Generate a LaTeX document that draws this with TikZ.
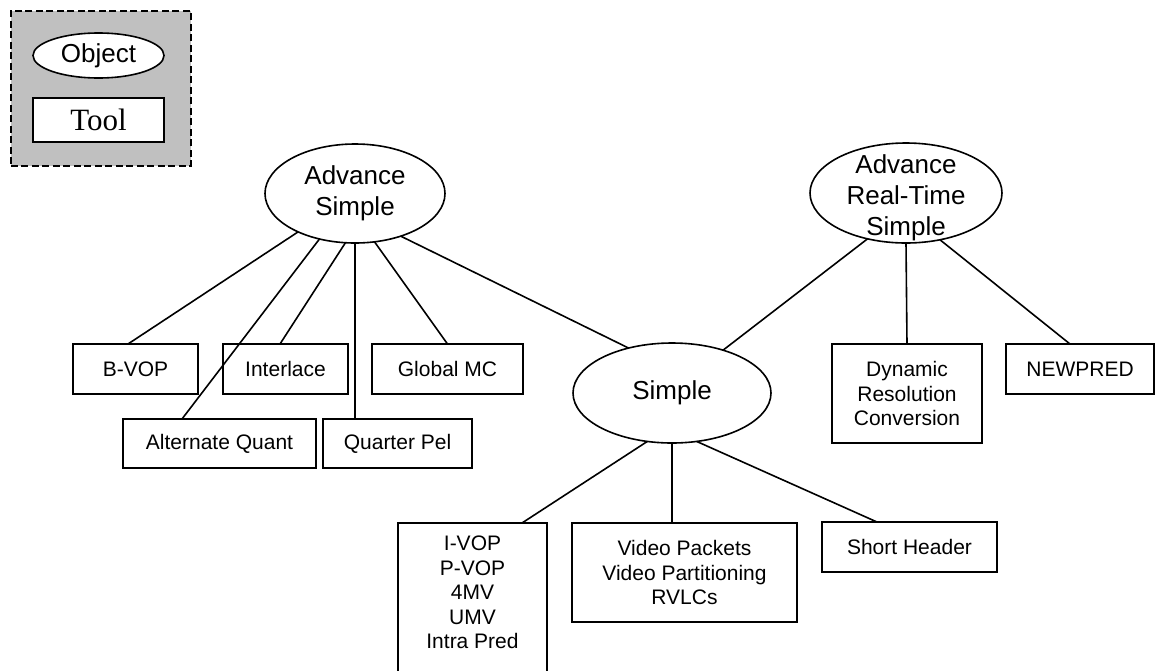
\documentclass[tikz,border=0pt]{standalone}
\usepackage{fontspec}
\setmainfont{Liberation Sans}
\newfontfamily\serifT{Liberation Serif}
\usetikzlibrary{shapes.geometric,calc}
\definecolor{legendgray}{RGB}{192,192,192}
\tikzset{
  conn/.style={line width=1.6pt},
  obj/.style={draw, ellipse, line width=1.6pt, inner sep=0pt, outer sep=0pt,
    font=\fontsize{26}{31}\selectfont, align=center},
  otext/.style={inner sep=0pt, font=\fontsize{26}{31}\selectfont, align=center},
  tbox/.style={draw, rectangle, line width=1.6pt, inner sep=0pt, outer sep=0pt,
    font=\fontsize{21}{24.5}\selectfont, align=center, anchor=north west},
  ttext/.style={inner sep=0pt, font=\fontsize{21}{24.5}\selectfont, align=center},
}
\begin{document}
\begin{tikzpicture}[x=1pt,y=-1pt]
\useasboundingbox (0,0) rectangle (1156,670);
% legend
\node[draw, dash pattern=on 7pt off 3.5pt, fill=legendgray, line width=1.6pt,
  minimum width=180, minimum height=155, anchor=north west, inner sep=0pt] (leg) at (10,10) {};
\node[obj, fill=white, minimum width=131, minimum height=45] (objl) at (98.5,55.5) {Object};
\node[draw, fill=white, line width=1.6pt, minimum width=131, minimum height=44, inner sep=0pt,
  font=\serifT\fontsize{31}{36}\selectfont] (tooll) at (98.5,120) {Tool};
% objects
\node[obj, minimum width=180, minimum height=99] (AS) at (355,193.5) {Advance\\Simple};
\node[obj, minimum width=198, minimum height=100] (S) at (672,393) {Simple};
\node[obj, minimum width=192, minimum height=100] (ARTS) at (906,193) {};
\node[otext] (ARTSt) at ([yshift=-5pt]ARTS.center) {Advance\\Real-Time\\Simple};
% tools
\node[tbox, minimum width=125, minimum height=50] (bvop) at (73,344) {B-VOP};
\node[tbox, minimum width=125, minimum height=50] (il) at (223,344) {Interlace};
\node[tbox, minimum width=151, minimum height=50] (gmc) at (372,344) {Global MC};
\node[tbox, minimum width=193, minimum height=49] (aq) at (123,419) {Alternate Quant};
\node[tbox, minimum width=149, minimum height=49] (qp) at (323,419) {Quarter Pel};
\node[tbox, minimum width=149, minimum height=190] (ivop) at (398,523) {};
\node[ttext, anchor=north] (ivopt) at ([yshift=-13pt]ivop.north) {I-VOP\\P-VOP\\4MV\\UMV\\Intra Pred};
\node[tbox, minimum width=225, minimum height=99] (vid) at (572,523) {Video Packets\\Video Partitioning\\RVLCs};
\node[tbox, minimum width=175, minimum height=50] (sh) at (822,522) {Short Header};
\node[tbox, minimum width=150, minimum height=99] (dyn) at (832,344) {Dynamic\\Resolution\\Conversion};
\node[tbox, minimum width=148, minimum height=50] (np) at (1006,344) {NEWPRED};
% connectors
\draw[conn] (AS.214.6) -- ([xshift=-7.5pt]bvop.north);
\draw[conn] (AS.232.4) -- ([xshift=-37.5pt]aq.north);
\draw[conn] (AS.259.7) -- ([xshift=-5.5pt]il.north);
\draw[conn] (AS.south) -- (AS.south |- qp.north);
\draw[conn] (AS.292.5) -- (gmc.north);
\draw[conn] (AS.317) -- (S.134.5);
\draw[conn] (ARTS.230.4) -- (S.40.1);
\draw[conn] (ARTS.south) -- (dyn.north);
\draw[conn] (ARTS.306) -- ([xshift=-10pt]np.north);
\draw[conn] (S.243.7) -- ([xshift=49.5pt]ivop.north);
\draw[conn] (S.south) -- (S.south |- vid.north);
\draw[conn] (S.297.3) -- ([xshift=-32.5pt]sh.north);
\end{tikzpicture}
\end{document}
